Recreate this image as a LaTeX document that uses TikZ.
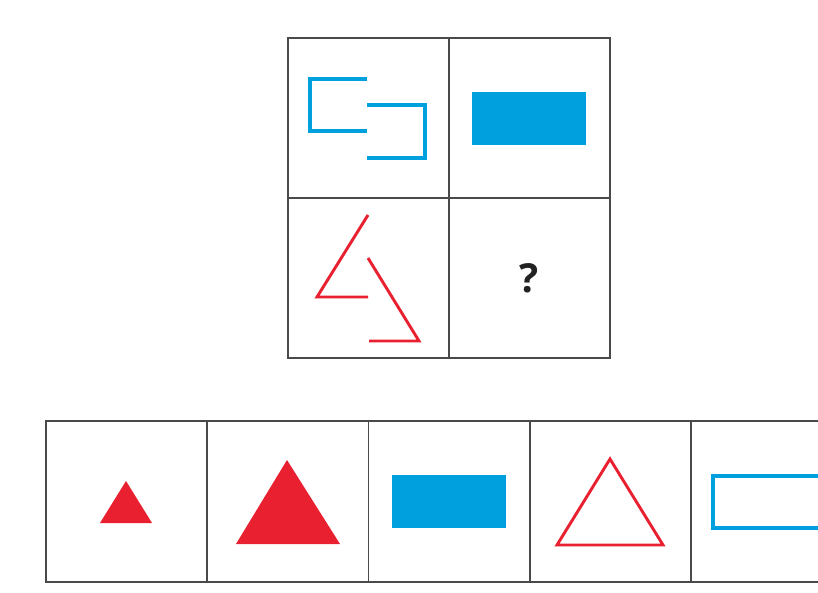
\documentclass[tikz,border=0pt]{standalone}
\usepackage{fontspec}
\newfontfamily\qfont{Open Sans}
\usetikzlibrary{positioning}
\definecolor{PuzzleBlue}{HTML}{009FDD}
\definecolor{PuzzleRed}{HTML}{E8202F}
\definecolor{GridGray}{HTML}{4A4A4A}
\definecolor{MarkInk}{HTML}{222222}
\tikzset{
  % Grid cell of the question square
  cell/.style={
    rectangle, draw=GridGray, line width=1.6pt,
    minimum width=161pt, minimum height=160pt,
    inner sep=0pt, outer sep=0pt
  },
  % Cell of the answer row
  opt/.style={cell, minimum width=161.25pt, minimum height=161pt},
  % Open outlines
  bluestroke/.style={draw=PuzzleBlue, line width=3.2pt},
  redstroke/.style={draw=PuzzleRed, line width=2.9pt, line join=miter},
  % Solid shapes
  bluefill/.style={fill=PuzzleBlue},
  redfill/.style={fill=PuzzleRed},
  % Question mark
  qmark/.style={font=\qfont\bfseries\fontsize{40}{40}\selectfont, text=MarkInk}
}

\begin{document}
\begin{tikzpicture}[x=1pt, y=-1pt]
  \clip (0,0) rectangle (818,593);
  \fill[white] (0,0) rectangle (818,593);

  % question square
  \node[cell] (g11) at (368.5,118) {};
  \node[cell, right=0pt of g11] (g12) {};
  \node[cell, below=0pt of g11] (g21) {};
  \node[cell, below=0pt of g12] (g22) {};
  \node[qmark] (q) at (g22.center) {?};

  \draw[bluestroke] (367,79) -- (310,79) -- (310,131) -- (367,131);
  \draw[bluestroke] (367,105) -- (425,105) -- (425,158) -- (367,158);
  \fill[bluefill] (472,92) rectangle (586,145);
  \draw[redstroke] (368,215) -- (317,297) -- (368,297);
  \draw[redstroke] (368,258) -- (419,341) -- (369,341);

  % answer row
  \node[opt] (a) at (126.6,501.5) {};
  \node[opt, right=0pt of a] (b) {};
  \node[opt, right=0pt of b] (c) {};
  \node[opt, right=0pt of c] (d) {};
  \node[opt, right=0pt of d] (e) {};

  \fill[redfill] (126,481) -- (100,523) -- (152,523) -- cycle;
  \fill[redfill] (287,460) -- (236,544) -- (340,544) -- cycle;
  \fill[bluefill] (392,475) rectangle (506,528);
  \draw[redstroke] (610,459) -- (557,545) -- (663,545) -- cycle;
  \draw[bluestroke] (713,476) rectangle (830,528);
\end{tikzpicture}
\end{document}
